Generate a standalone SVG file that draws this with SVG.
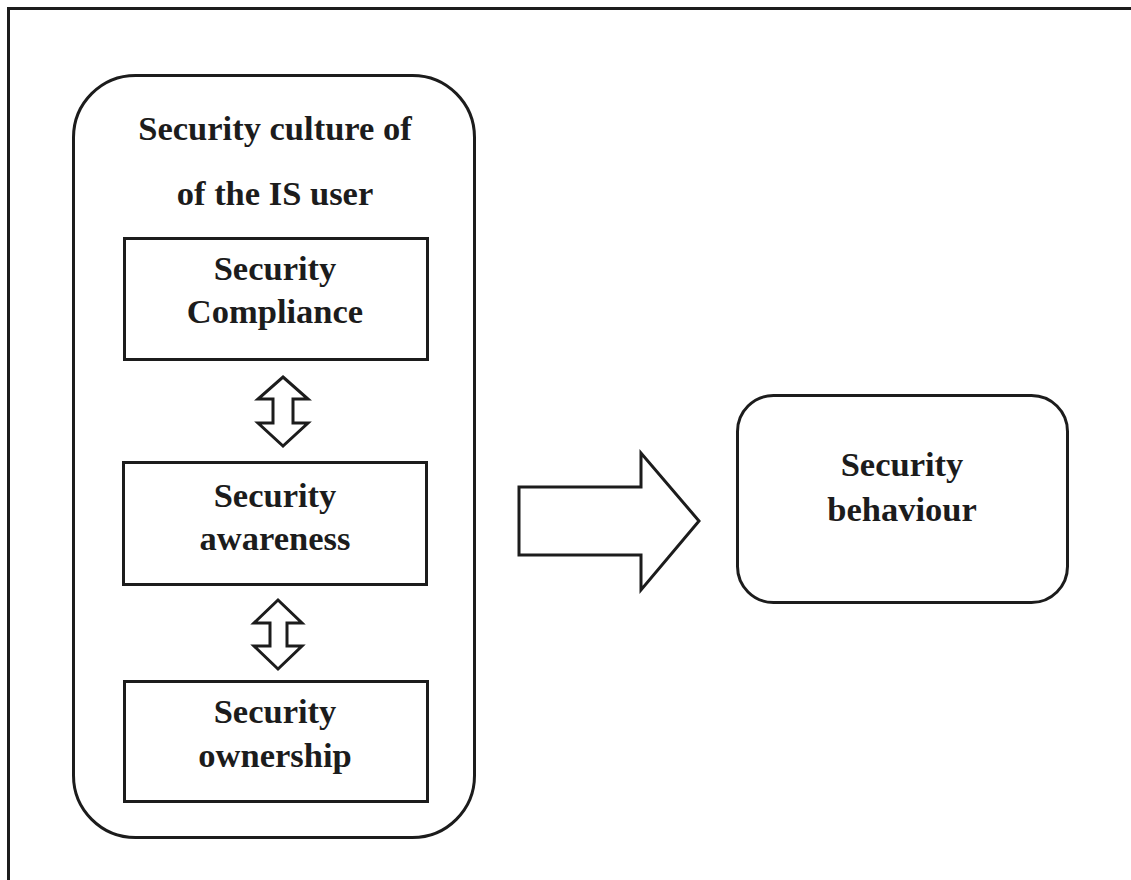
<svg xmlns="http://www.w3.org/2000/svg" width="1131" height="880" viewBox="0 0 1131 880">
<style>
  .shape { fill: #fff; stroke: #1c1c1c; stroke-width: 3; stroke-linejoin: miter; }
  .arrow { fill: #fff; stroke: #1c1c1c; stroke-width: 3; stroke-linejoin: miter; }
  .lbl { font-family: "Liberation Serif", "Times New Roman", serif; font-weight: bold; font-size: 34.5px; fill: #1c1c1c; text-anchor: middle; }
</style>
<rect x="0" y="0" width="1131" height="880" fill="#fff"/>
<g id="frame">
  <path d="M8.5 880 V8.5 H1131" fill="none" stroke="#1c1c1c" stroke-width="3"/>
</g>
<g id="culture">
  <rect class="shape" x="73.5" y="75.5" width="401" height="762" rx="62" ry="62"/>
  <text class="lbl" x="275" y="140">Security culture of</text>
  <text class="lbl" x="275" y="205">of the IS user</text>
</g>
<g id="compliance">
  <rect class="shape" x="124.5" y="238.5" width="303" height="121"/>
  <text class="lbl" x="275" y="280">Security</text>
  <text class="lbl" x="275" y="323">Compliance</text>
</g>
<g id="awareness">
  <rect class="shape" x="123.5" y="462.5" width="303" height="122"/>
  <text class="lbl" x="275" y="507">Security</text>
  <text class="lbl" x="275" y="550">awareness</text>
</g>
<g id="ownership">
  <rect class="shape" x="124.5" y="681.5" width="303" height="120"/>
  <text class="lbl" x="275" y="723">Security</text>
  <text class="lbl" x="275" y="767">ownership</text>
</g>
<g id="behaviour">
  <rect class="shape" x="737.5" y="395.5" width="330" height="207" rx="36" ry="36"/>
  <text class="lbl" x="902" y="476">Security</text>
  <text class="lbl" x="902" y="521">behaviour</text>
</g>
<g id="connectors">
  <polygon class="arrow" points="283,377 308,399 293,399 293,423 308,423 283,446 258,423 273,423 273,399 258,399"/>
  <polygon class="arrow" points="278,600 302,623 287,623 287,646 302,646 278,669 254,646 270,646 270,623 254,623"/>
  <polygon class="arrow" points="519,487 641,487 641,453 699,521 641,590 641,555 519,555"/>
</g>
</svg>
